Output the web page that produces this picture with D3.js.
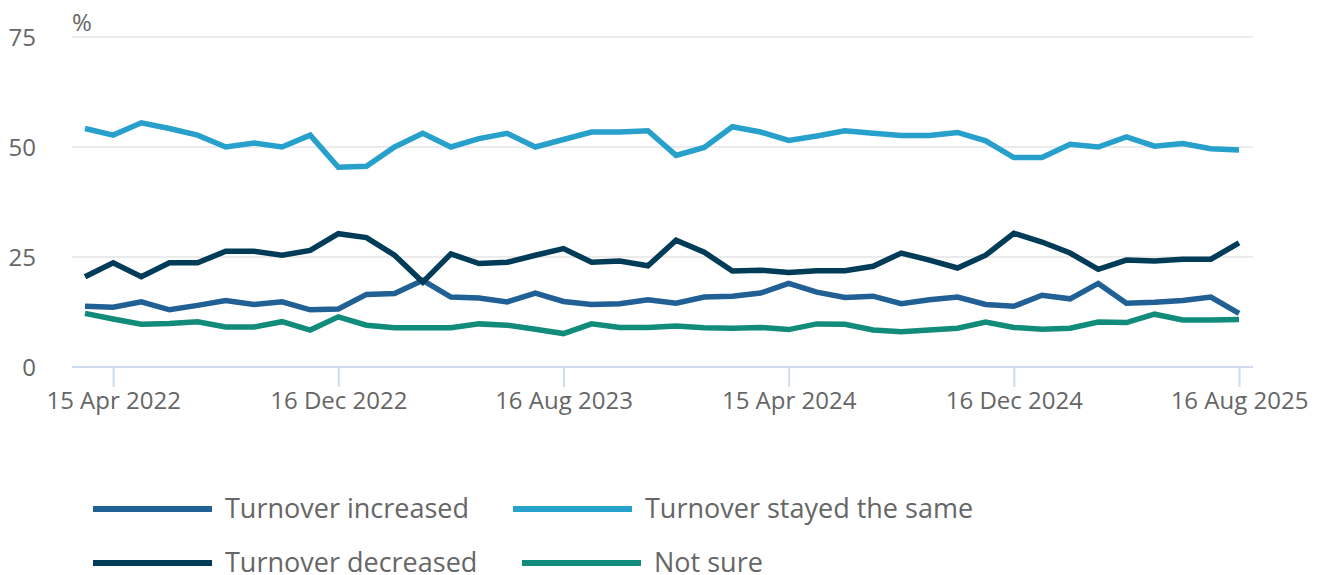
<!DOCTYPE html>
<html>
<head>
<meta charset="utf-8">
<script src="https://cdn.jsdelivr.net/npm/d3@7"></script>
<style>
  body { margin: 0; background: #fff; }
  svg { font-family: "Open Sans", sans-serif; }
</style>
</head>
<body>
<div id="chart"></div>
<script>
// monthly survey waves, Mar 2022 - Aug 2025
const categories = [
  "Mar 2022", "Apr 2022", "May 2022", "Jun 2022", "Jul 2022", "Aug 2022", "Sep 2022", "Oct 2022", "Nov 2022", "Dec 2022",
  "Jan 2023", "Feb 2023", "Mar 2023", "Apr 2023", "May 2023", "Jun 2023", "Jul 2023", "Aug 2023", "Sep 2023", "Oct 2023",
  "Nov 2023", "Dec 2023", "Jan 2024", "Feb 2024", "Mar 2024", "Apr 2024", "May 2024", "Jun 2024", "Jul 2024", "Aug 2024",
  "Sep 2024", "Oct 2024", "Nov 2024", "Dec 2024", "Jan 2025", "Feb 2025", "Mar 2025", "Apr 2025", "May 2025", "Jun 2025",
  "Jul 2025", "Aug 2025"
];

const tickCategories = ["Apr 2022", "Dec 2022", "Aug 2023", "Apr 2024", "Dec 2024", "Aug 2025"];
const tickLabels = ["15 Apr 2022", "16 Dec 2022", "16 Aug 2023", "15 Apr 2024", "16 Dec 2024", "16 Aug 2025"];

const yTicks = [0, 25, 50, 75];

const increased = [
  13.8, 13.6, 14.8, 13.0, 14.0, 15.1, 14.2, 14.8, 13.0, 13.2,
  16.5, 16.7, 19.7, 15.9, 15.7, 14.8, 16.8, 14.9, 14.2, 14.4,
  15.3, 14.5, 15.9, 16.1, 16.8, 19.0, 17.0, 15.8, 16.1, 14.4,
  15.3, 15.9, 14.2, 13.8, 16.3, 15.5, 19.0, 14.5, 14.7, 15.1,
  15.9, 12.2
];
const stayedSame = [
  54.2, 52.7, 55.5, 54.2, 52.7, 50.0, 50.9, 50.0, 52.7, 45.4,
  45.6, 50.0, 53.1, 50.0, 51.9, 53.1, 50.0, 51.7, 53.4, 53.4,
  53.7, 48.1, 49.9, 54.6, 53.4, 51.5, 52.5, 53.7, 53.1, 52.6,
  52.6, 53.3, 51.4, 47.6, 47.6, 50.6, 50.0, 52.3, 50.2, 50.8,
  49.6, 49.3
];
const decreased = [
  20.5, 23.7, 20.5, 23.7, 23.7, 26.3, 26.3, 25.4, 26.5, 30.3,
  29.4, 25.4, 19.3, 25.7, 23.5, 23.8, 25.4, 26.9, 23.8, 24.1,
  23.0, 28.8, 26.1, 21.8, 22.0, 21.5, 21.9, 21.9, 22.9, 25.9,
  24.3, 22.5, 25.4, 30.4, 28.4, 25.9, 22.2, 24.3, 24.1, 24.5,
  24.5, 28.2
];
const notSure = [
  12.2, 10.9, 9.7, 9.9, 10.3, 9.1, 9.1, 10.3, 8.4, 11.4,
  9.5, 8.9, 8.9, 8.9, 9.8, 9.5, 8.6, 7.6, 9.8, 9.0,
  9.0, 9.3, 8.9, 8.8, 9.0, 8.5, 9.8, 9.7, 8.4, 8.0,
  8.4, 8.8, 10.2, 9.0, 8.6, 8.8, 10.2, 10.1, 12.0, 10.7,
  10.7, 10.8
];

const series = [
  { name: "Turnover increased", values: increased, color: "#206095" },
  { name: "Turnover stayed the same", values: stayedSame, color: "#27a0cc" },
  { name: "Turnover decreased", values: decreased, color: "#003c57" },
  { name: "Not sure", values: notSure, color: "#118c7b" }
];

const width = 1323, height = 575;
const plotLeft = 72, plotRight = 1253, plotTop = 37, plotBottom = 367;
const textColor = "#666666";

const svg = d3.select("#chart").append("svg")
  .attr("width", width)
  .attr("height", height);

const x = d3.scalePoint()
  .domain(categories)
  .range([85, 1239]);

const y = d3.scaleLinear()
  .domain([0, 75])
  .range([plotBottom, plotTop]);

// gridlines
svg.append("g")
  .selectAll("line")
  .data(yTicks.filter(d => d > 0))
  .enter()
  .append("line")
  .attr("x1", plotLeft)
  .attr("x2", plotRight)
  .attr("y1", d => y(d))
  .attr("y2", d => y(d))
  .attr("stroke", "#e4e4e4")
  .attr("stroke-width", 1.5);

// y labels
svg.append("g")
  .selectAll("text")
  .data(yTicks)
  .enter()
  .append("text")
  .attr("x", 36)
  .attr("y", d => y(d))
  .attr("dy", "0.36em")
  .attr("text-anchor", "end")
  .attr("fill", textColor)
  .style("font-size", "24px")
  .text(d => d);

svg.append("text")
  .attr("x", plotLeft)
  .attr("y", 31)
  .attr("fill", textColor)
  .style("font-size", "24px")
  .text("%");

// x axis
const xAxis = svg.append("g")
  .attr("transform", `translate(0, ${plotBottom})`)
  .call(d3.axisBottom(x)
    .tickValues(tickCategories)
    .tickSize(20)
    .tickPadding(5)
    .tickFormat(d => tickLabels[tickCategories.indexOf(d)]));

xAxis.select(".domain").remove();
xAxis.insert("line", ":first-child")
  .attr("x1", plotLeft)
  .attr("x2", plotRight)
  .attr("stroke", "#cfdbee")
  .attr("stroke-width", 2);
xAxis.selectAll(".tick line").attr("stroke", "#cfdbee").attr("stroke-width", 2);
xAxis.selectAll(".tick text")
  .attr("fill", textColor)
  .style("font-family", "'Open Sans', sans-serif")
  .style("font-size", "24px");

// lines
const line = d3.line()
  .x((d, i) => x(categories[i]))
  .y(d => y(d));

svg.append("g")
  .selectAll("path")
  .data(series)
  .enter()
  .append("path")
  .attr("d", d => line(d.values))
  .attr("fill", "none")
  .attr("stroke", d => d.color)
  .attr("stroke-width", 5.5)
  .attr("stroke-linejoin", "miter");

// legend
const legendPos = [
  { lx: 93, ly: 509 },
  { lx: 513, ly: 509 },
  { lx: 93, ly: 563 },
  { lx: 522, ly: 563 }
];

const legend = svg.append("g")
  .selectAll("g")
  .data(series)
  .enter()
  .append("g")
  .attr("transform", (d, i) => `translate(${legendPos[i].lx}, ${legendPos[i].ly})`);

legend.append("line")
  .attr("x1", 0)
  .attr("x2", 119)
  .attr("stroke", d => d.color)
  .attr("stroke-width", 6);

legend.append("text")
  .attr("x", 132)
  .attr("y", 0)
  .attr("dy", "0.35em")
  .attr("fill", textColor)
  .style("font-size", "27px")
  .text(d => d.name);
</script>
</body>
</html>
